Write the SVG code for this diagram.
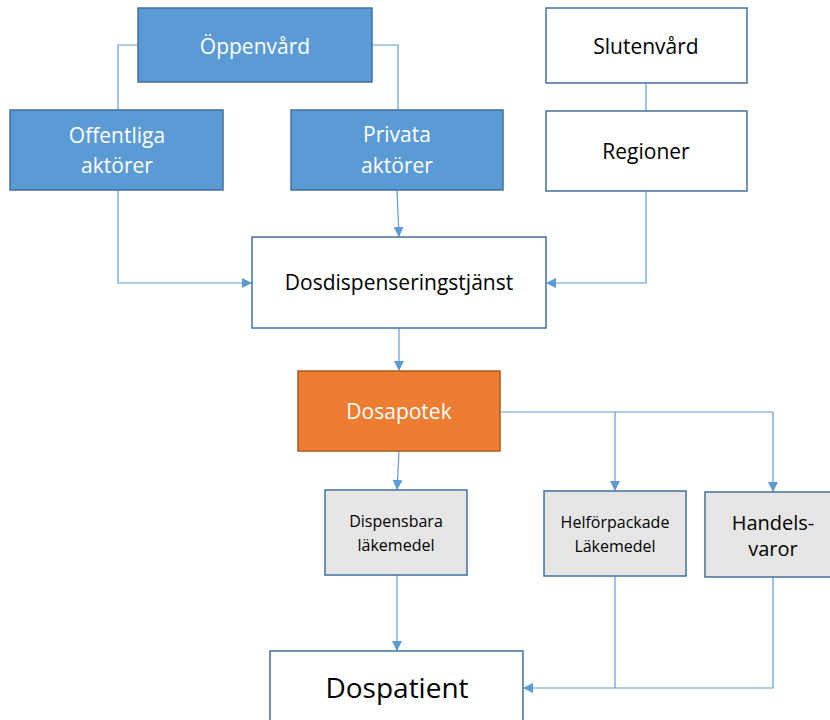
<svg xmlns="http://www.w3.org/2000/svg" width="830" height="720" viewBox="0 0 830 720">
<defs>
<marker id="arr" viewBox="0 0 10 10" refX="10" refY="5" markerWidth="10" markerHeight="10" markerUnits="userSpaceOnUse" orient="auto">
<path d="M0,0 L10,5 L0,10 Z" fill="#5B9BD5"/>
</marker>
<style>
.blue{fill:#5B9BD5;stroke:#41719C;stroke-width:1.5}
.white{fill:#FFFFFF;stroke:#41719C;stroke-width:1.5}
.orange{fill:#ED7D31;stroke:#AE5A21;stroke-width:1.5}
.gray{fill:#E7E6E6;stroke:#41719C;stroke-width:1.5}
.t{font-family:"Open Sans","Liberation Sans",sans-serif;text-anchor:middle;font-size:21px;fill:#000}
.w{fill:#FFFFFF}
.s{font-size:16px}
.c{fill:none;stroke:#5B9BD5;stroke-width:1.2}
.a{marker-end:url(#arr)}
</style>
</defs>
<rect width="830" height="720" fill="#FFFFFF"/>
<g id="connectors">
<path class="c" d="M138,45 H118 V110"/>
<path class="c" d="M372,45 H398 V110"/>
<path class="c" d="M646,83 V111"/>
<path class="c a" d="M118,190 V283 H252"/>
<path class="c a" d="M397,190 L399,237"/>
<path class="c a" d="M646,191 V283 H546"/>
<path class="c a" d="M399,328 V371"/>
<path class="c" d="M500,412 H773"/>
<path class="c a" d="M615,412 V491"/>
<path class="c a" d="M773,412 V492"/>
<path class="c a" d="M399,451 L397,490"/>
<path class="c a" d="M397,575 V651"/>
<path class="c" d="M615,576 V688"/>
<path class="c a" d="M773,577 V688 H523"/>
</g>
<g id="oppenvard">
<rect class="blue" x="138" y="8" width="234" height="74"/>
<text class="t w" x="255" y="54">Öppenvård</text>
</g>
<g id="offentliga">
<rect class="blue" x="10" y="110" width="213" height="80"/>
<text class="t w" x="117" y="143">Offentliga</text>
<text class="t w" x="117" y="173">aktörer</text>
</g>
<g id="privata">
<rect class="blue" x="291" y="110" width="212" height="80"/>
<text class="t w" x="397" y="142">Privata</text>
<text class="t w" x="397" y="173">aktörer</text>
</g>
<g id="slutenvard">
<rect class="white" x="546" y="8" width="201" height="75"/>
<text class="t" x="646" y="54">Slutenvård</text>
</g>
<g id="regioner">
<rect class="white" x="546" y="111" width="201" height="80"/>
<text class="t" x="646" y="159">Regioner</text>
</g>
<g id="dosdispensering">
<rect class="white" x="252" y="237" width="294" height="91"/>
<text class="t" x="399" y="290">Dosdispenseringstjänst</text>
</g>
<g id="dosapotek">
<rect class="orange" x="298" y="371" width="202" height="80"/>
<text class="t w" x="399" y="419">Dosapotek</text>
</g>
<g id="dispensbara">
<rect class="gray" x="325" y="490" width="142" height="85"/>
<text class="t s" x="396" y="527">Dispensbara</text>
<text class="t s" x="396" y="551">läkemedel</text>
</g>
<g id="helforpackade">
<rect class="gray" x="544" y="491" width="142" height="85"/>
<text class="t s" x="615" y="528">Helförpackade</text>
<text class="t s" x="615" y="552">Läkemedel</text>
</g>
<g id="handelsvaror">
<rect class="gray" x="705" y="492" width="136" height="85"/>
<text class="t" x="773" y="530" style="font-size:20px">Handels-</text>
<text class="t" x="773" y="556" style="font-size:20px">varor</text>
</g>
<g id="dospatient">
<rect class="white" x="270" y="651" width="253" height="80"/>
<text class="t" x="397" y="698" style="font-size:28px">Dospatient</text>
</g>
</svg>
